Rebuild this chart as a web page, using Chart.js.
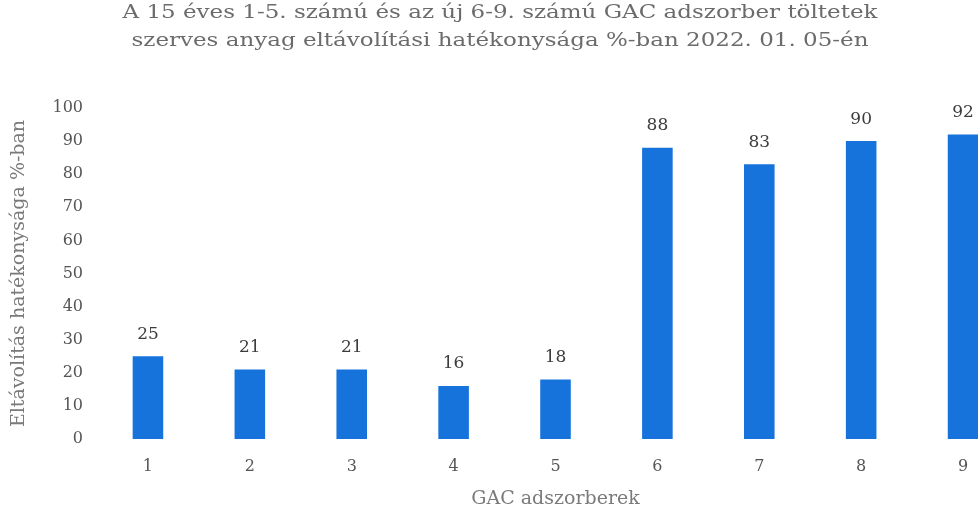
<!DOCTYPE html>
<html lang="hu">
<head>
<meta charset="utf-8">
<title>GAC adszorberek hatékonysága</title>
<script src="https://cdn.jsdelivr.net/npm/chart.js@4.4.1/dist/chart.umd.min.js"></script>
<style>
  html, body { margin: 0; padding: 0; background: #ffffff; overflow: hidden; }
  #wrap { position: relative; width: 1016px; height: 510px; }
  #chart-title {
    position: absolute; top: -3px; left: 0; width: 1000px;
    text-align: center; font-family: "DejaVu Serif", serif; font-size: 19px;
    line-height: 28px; color: #6b6b6b;
    transform: scaleX(1.21); transform-origin: 500px 0;
  }
  #canvas-box { position: absolute; left: 0; top: 0; width: 1016px; height: 510px; }
</style>
</head>
<body>
<div id="wrap">
  <div id="canvas-box"><canvas id="gac-chart"></canvas></div>
  <div id="chart-title">A 15 éves 1-5. számú és az új 6-9. számú GAC adszorber töltetek<br>szerves anyag eltávolítási hatékonysága %-ban 2022. 01. 05-én</div>
</div>
<script>
// adszorberek sorszáma és a leolvasott hatékonyság (%)
const adszorberek = ['1', '2', '3', '4', '5', '6', '7', '8', '9'];
const hatekonysag = [25, 21, 21, 16, 18, 88, 83, 90, 92];
const yTicks = [0, 10, 20, 30, 40, 50, 60, 70, 80, 90, 100];

const textColor = '#555555';
const barColor = '#1673dc';

// értékcímkék az oszlopok fölé (a datalabels plugin helyett)
const barValueLabels = {
  id: 'barValueLabels',
  afterDatasetsDraw(chart) {
    const ctx = chart.ctx;
    const meta = chart.getDatasetMeta(0);
    ctx.save();
    ctx.font = '17px "DejaVu Serif", serif';
    ctx.fillStyle = '#3c3c3c';
    ctx.textAlign = 'center';
    ctx.textBaseline = 'middle';
    meta.data.forEach((bar, i) => {
      ctx.fillText(String(hatekonysag[i]), bar.x, bar.y - 22);
    });
    ctx.restore();
  }
};

new Chart(document.getElementById('gac-chart'), {
  type: 'bar',
  data: {
    labels: adszorberek,
    datasets: [{
      data: hatekonysag,
      backgroundColor: barColor,
      barPercentage: 0.3,
      categoryPercentage: 1
    }]
  },
  options: {
    responsive: true,
    maintainAspectRatio: false,
    animation: false,
    layout: { padding: { top: 108, right: 2, bottom: 0, left: 0 } },
    plugins: {
      legend: { display: false },
      tooltip: { enabled: false }
    },
    scales: {
      x: {
        afterFit(scale) {
          scale.height = 71;
        },
        grid: { display: false, drawTicks: false },
        border: { display: false },
        ticks: { color: textColor, padding: 18, font: { family: 'DejaVu Serif', size: 16 } },
        title: {
          display: true,
          text: 'GAC adszorberek',
          color: '#7a7a7a',
          padding: { top: 4, bottom: 0 },
          font: { family: 'DejaVu Serif', size: 19 }
        }
      },
      y: {
        min: 0,
        max: 100,
        afterBuildTicks(scale) {
          scale.ticks = yTicks.map((value) => ({ value }));
        },
        afterFit(scale) {
          scale.width = 97;
        },
        grid: { display: false, drawTicks: false },
        border: { display: false },
        ticks: { color: textColor, padding: 14, font: { family: 'DejaVu Serif', size: 16 } },
        title: {
          display: true,
          text: 'Eltávolítás hatékonysága %-ban',
          color: '#7a7a7a',
          padding: { top: 8, bottom: 0 },
          font: { family: 'DejaVu Serif', size: 19 }
        }
      }
    }
  },
  plugins: [barValueLabels]
});
</script>
</body>
</html>
